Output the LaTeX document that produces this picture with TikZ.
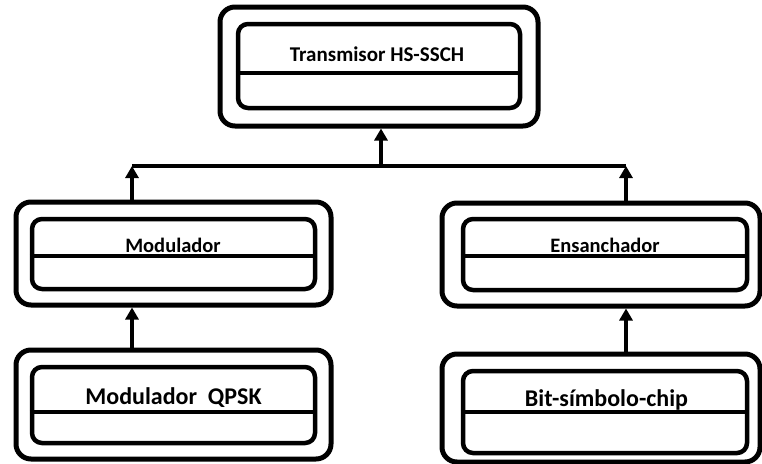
\documentclass[tikz,border=0pt]{standalone}
\usepackage{fontspec}
\setmainfont{Carlito}
\usetikzlibrary{arrows.meta, calc}

\tikzset{
    shell/.style={draw, rectangle, rounded corners=15pt, line width=5pt, inner sep=0pt},
    core/.style={draw, rectangle, rounded corners=10pt, line width=4.5pt, inner sep=0pt},
    bar/.style={line width=3.3pt},
    label/.style={anchor=base, inner sep=0pt, font=\bfseries},
    flow/.style={line width=4.3pt, -{Triangle[width=13pt,length=12pt]}},
}

\begin{document}
\begin{tikzpicture}[x=1pt, y=-1pt]
    \useasboundingbox (0,0) rectangle (762,463);
    % top block
    \node[shell, minimum width=318pt, minimum height=119pt] (tx) at (379,66.5) {};
    \node[core, minimum width=282pt, minimum height=84pt] (txin) at (379,66) {};
    \draw[bar] (txin.west |- 0,73) -- (txin.east |- 0,73);
    \node[label] (txlab) at (377,61) {\fontsize{21}{25}\selectfont Transmisor HS-SSCH};
    % middle blocks
    \node[shell, minimum width=315pt, minimum height=103pt] (mod) at (173.5,253.5) {};
    \node[core, minimum width=283pt, minimum height=70pt] (modin) at (173.5,254) {};
    \draw[bar] (modin.west |- 0,256) -- (modin.east |- 0,256);
    \node[label] (modlab) at (173,252) {\fontsize{20.5}{24}\selectfont Modulador};
    \node[shell, minimum width=318pt, minimum height=103pt] (ens) at (601,254.5) {};
    \node[core, minimum width=284pt, minimum height=71pt] (ensin) at (605,254.5) {};
    \draw[bar] (ensin.west |- 0,256) -- (ensin.east |- 0,256);
    \node[label] (enslab) at (605,252) {\fontsize{20.5}{24}\selectfont Ensanchador};
    % bottom blocks
    \node[shell, minimum width=315pt, minimum height=109pt] (qpsk) at (173.5,404.5) {};
    \node[core, minimum width=283pt, minimum height=76pt] (qpskin) at (173.5,405) {};
    \draw[bar] (qpskin.west |- 0,412) -- (qpskin.east |- 0,412);
    \node[label] (qpsklab) at (173.5,404) {\fontsize{24}{28}\selectfont Modulador\ \ QPSK};
    \node[shell, minimum width=318pt, minimum height=108pt] (chip) at (601,408) {};
    \node[core, minimum width=284pt, minimum height=82pt] (chipin) at (605,412) {};
    \draw[bar] (chipin.west |- 0,412) -- (chipin.east |- 0,412);
    \node[label] (chiplab) at (606.5,406) {\fontsize{24}{28}\selectfont Bit-símbolo-chip};
    % bus and arrows
    \coordinate (busL) at (132,166);
    \coordinate (busR) at (626,166);
    \coordinate (busM) at (381,166);
    \draw[bar] (busL) -- (busR);
    \draw[flow] (busM) -- (busM |- tx.south);
    \draw[flow] (busL |- mod.north) -- (busL);
    \draw[flow] (busR |- ens.north) -- (busR);
    \draw[flow] (busL |- qpsk.north) -- (busL |- mod.south);
    \draw[flow] (busR |- chip.north) -- (busR |- ens.south);
\end{tikzpicture}
\end{document}
